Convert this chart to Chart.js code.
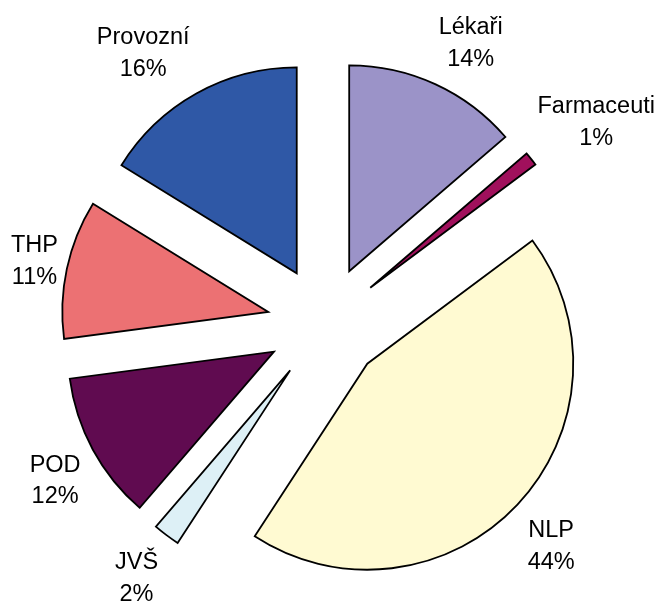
<!DOCTYPE html>
<html>
<head>
<meta charset="utf-8">
<script src="https://cdn.jsdelivr.net/npm/chart.js@4"></script>
<style>
  html, body { margin: 0; padding: 0; background: #fff; }
</style>
</head>
<body>
<canvas id="chart" width="666" height="601"></canvas>
<script>
// categories clockwise from 12 o'clock
const labels = ['Lékaři', 'Farmaceuti', 'NLP', 'JVŠ', 'POD', 'THP', 'Provozní'];
const shares = [13.7, 1.1, 44.4, 2.1, 11.6, 10.9, 16.2];
const colors = ['#9b93c8', '#a0105c', '#fffad2', '#ddf0f6', '#600b50', '#ec7173', '#2f58a6'];

// pushes every slice out from the centre along its middle angle
const explode = {
  id: 'explode',
  afterDatasetUpdate(chart, args, opts) {
    args.meta.data.forEach(arc => {
      const mid = (arc.startAngle + arc.endAngle) / 2;
      arc.x += Math.cos(mid) * opts.distance;
      arc.y += Math.sin(mid) * opts.distance;
    });
  }
};

// "name / xx%" labels outside each slice
const outsideLabels = {
  id: 'outsideLabels',
  afterDatasetsDraw(chart, args, opts) {
    const ctx = chart.ctx;
    const meta = chart.getDatasetMeta(0);
    const values = chart.data.datasets[0].data;
    const total = values.reduce((a, b) => a + b, 0);
    const sx = v => Math.max(-1, Math.min(1, v / 0.45));
    const sy = v => Math.sign(v) * Math.max(0, Math.min(1, (Math.abs(v) - 0.1) / 0.5));
    const hh = opts.boxHeight / 2;

    ctx.save();
    ctx.font = opts.font;
    ctx.fillStyle = opts.color;
    ctx.textAlign = 'center';
    ctx.textBaseline = 'alphabetic';
    meta.data.forEach((arc, i) => {
      const mid = (arc.startAngle + arc.endAngle) / 2;
      const ux = Math.cos(mid), uy = Math.sin(mid);
      const r = arc.outerRadius + opts.gap;
      const ax = arc.x + ux * r, ay = arc.y + uy * r;
      const lines = [chart.data.labels[i], Math.round(values[i] / total * 100) + '%'];
      const hw = Math.max(...lines.map(t => ctx.measureText(t).width)) / 2;
      let cx = ax + hw * sx(ux);
      let cy = ay + hh * sy(uy);
      cx = Math.min(Math.max(cx, hw + opts.margin), chart.width - hw - opts.margin);
      cy = Math.min(Math.max(cy, hh), chart.height - hh + 5);
      const top = cy - hh;
      ctx.fillText(lines[0], cx, top + opts.ascent);
      ctx.fillText(lines[1], cx, top + opts.ascent + opts.lineHeight);
    });
    ctx.restore();
  }
};

new Chart(document.getElementById('chart'), {
  type: 'pie',
  data: {
    labels: labels,
    datasets: [{
      data: shares,
      backgroundColor: colors,
      borderColor: '#000',
      borderWidth: 1.8,
      borderJoinStyle: 'miter',
      radius: 206
    }]
  },
  options: {
    responsive: false,
    animation: false,
    events: [],
    layout: {
      padding: { left: 0, right: 16, top: 47, bottom: 0 }
    },
    plugins: {
      legend: { display: false },
      tooltip: { enabled: false },
      explode: { distance: 58 },
      outsideLabels: {
        font: '23.5px "Liberation Sans", Arial, sans-serif',
        color: '#000',
        gap: 14,
        boxHeight: 60,
        ascent: 23,
        lineHeight: 31.5,
        margin: 11
      }
    }
  },
  plugins: [explode, outsideLabels]
});
</script>
</body>
</html>
